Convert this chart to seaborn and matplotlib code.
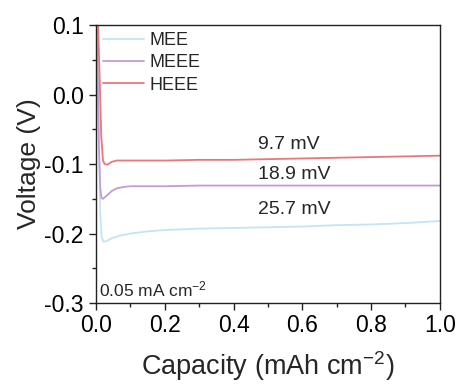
import matplotlib
matplotlib.use("Agg")
import matplotlib.pyplot as plt
import seaborn as sns
import pandas as pd
from matplotlib.ticker import MultipleLocator

sns.set_theme(style="ticks")
plt.rcParams["font.family"] = ["Liberation Sans", "DejaVu Sans"]
plt.rcParams["mathtext.fontset"] = "custom"
plt.rcParams["mathtext.rm"] = "Liberation Sans"
plt.rcParams["mathtext.it"] = "Liberation Sans:italic"
plt.rcParams["mathtext.bf"] = "Liberation Sans:bold"

# Galvanostatic plating curves at 0.05 mA cm^-2
cap_mee = [0.0, 0.004, 0.008, 0.012, 0.016, 0.022, 0.03, 0.045, 0.07, 0.1, 0.15, 0.2, 0.3, 0.4, 0.5, 0.6, 0.7, 0.8, 0.9, 1.0]
v_mee = [0.13, 0.06, -0.06, -0.17, -0.205, -0.212, -0.211, -0.207, -0.203, -0.200, -0.197, -0.195, -0.193, -0.192, -0.191, -0.190, -0.188, -0.187, -0.185, -0.182]

cap_meee = [0.0, 0.004, 0.008, 0.012, 0.016, 0.02, 0.03, 0.045, 0.06, 0.08, 0.1, 0.2, 0.3, 0.4, 0.5, 0.6, 0.7, 0.8, 0.9, 1.0]
v_meee = [0.12, 0.04, -0.07, -0.135, -0.149, -0.150, -0.146, -0.139, -0.135, -0.133, -0.132, -0.132, -0.131, -0.131, -0.131, -0.131, -0.131, -0.131, -0.131, -0.131]

cap_heee = [0.0, 0.005, 0.01, 0.015, 0.02, 0.025, 0.033, 0.045, 0.06, 0.1, 0.2, 0.3, 0.4, 0.5, 0.6, 0.7, 0.8, 0.9, 1.0]
v_heee = [0.14, 0.11, 0.03, -0.06, -0.095, -0.100, -0.101, -0.097, -0.095, -0.095, -0.095, -0.094, -0.094, -0.093, -0.092, -0.091, -0.090, -0.089, -0.088]

series = ["MEE", "MEEE", "HEEE"]
colors = ["#c4e4f3", "#c49bd2", "#e8777a"]
overpotentials = ["25.7 mV", "18.9 mV", "9.7 mV"]
label_pos = [(0.47, -0.166), (0.47, -0.115), (0.47, -0.072)]

frames = []
for name, c, v in zip(series, [cap_mee, cap_meee, cap_heee], [v_mee, v_meee, v_heee]):
    frames.append(pd.DataFrame({"Capacity": c, "Voltage": v, "Electrolyte": name}))
df = pd.concat(frames, ignore_index=True)

fig = plt.figure(figsize=(4.62, 3.85), dpi=100)
ax = fig.add_axes([0.208, 0.213, 0.744, 0.722])

sns.lineplot(data=df, x="Capacity", y="Voltage", hue="Electrolyte",
             hue_order=series, palette=colors, sort=False, estimator=None,
             linewidth=1.3, ax=ax)

ax.set_xlim(0, 1.0)
ax.set_ylim(-0.3, 0.1)
ax.xaxis.set_minor_locator(MultipleLocator(0.1))
ax.yaxis.set_minor_locator(MultipleLocator(0.05))
xt = [0.0, 0.2, 0.4, 0.6, 0.8, 1.0]
ax.set_xticks(xt)
ax.set_xticklabels([f"{t:.1f}" for t in xt])
ax.set_yticks([0.1, 0.0, -0.1, -0.2, -0.3])
ax.set_yticklabels(["0.1", "0.0", "-0.1", "-0.2", "-0.3"])
ax.tick_params(axis="both", which="major", labelsize=16.5, length=5, width=1,
               direction="out", pad=3, colors="#222222", labelcolor="black")
ax.tick_params(axis="y", which="major", pad=4)
ax.tick_params(axis="both", which="minor", length=3, width=1, direction="out",
               colors="#222222")
for s in ax.spines.values():
    s.set_linewidth(1.0)
    s.set_color("#222222")

ax.set_xlabel("Capacity (mAh cm$^{-2}$)", fontsize=19.5, labelpad=9)
ax.set_ylabel("Voltage (V)", fontsize=19, labelpad=2)

for txt, (x, y) in zip(overpotentials, label_pos):
    ax.text(x, y, txt, fontsize=14, ha="left", va="center")
ax.text(0.007, -0.281, "0.05 mA cm$^{-2}$", fontsize=12.5, ha="left", va="center")

leg = ax.legend(loc="upper left", frameon=False, fontsize=13, handlelength=2.3,
                handletextpad=0.3, labelspacing=0.3, borderaxespad=0.0,
                borderpad=0.0, bbox_to_anchor=(0.02, 0.975))
for line in leg.get_lines():
    line.set_linewidth(1.3)

fig.savefig("out.png", dpi=100)
